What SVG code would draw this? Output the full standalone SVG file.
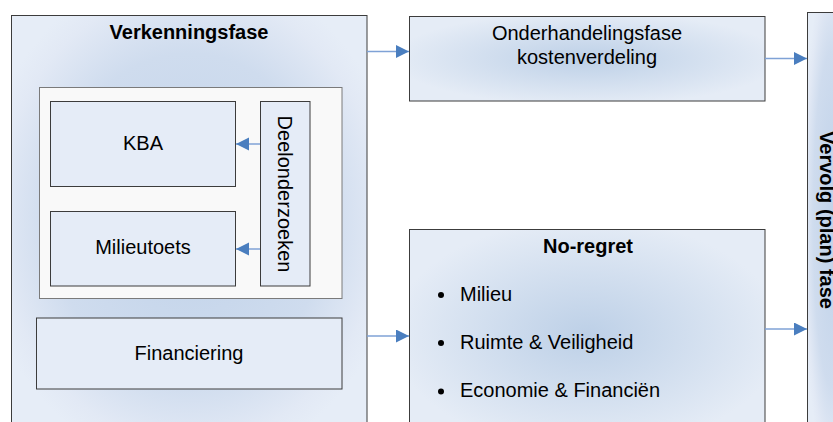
<svg xmlns="http://www.w3.org/2000/svg" width="833" height="422" viewBox="0 0 833 422">
<defs>
<radialGradient id="g" cx="50%" cy="50%" r="55%">
<stop offset="0" stop-color="#bdd0e7"/>
<stop offset="1" stop-color="#e5ecf6"/>
</radialGradient>
<radialGradient id="gv" cx="50%" cy="48%" r="60%">
<stop offset="0" stop-color="#c0d2e9"/>
<stop offset="0.65" stop-color="#cfdcee"/>
<stop offset="0.9" stop-color="#e2e9f5"/>
<stop offset="1" stop-color="#e6edf7"/>
</radialGradient>
<marker id="ah" markerUnits="userSpaceOnUse" markerWidth="14" markerHeight="14" refX="13" refY="6.5" orient="auto">
<path d="M0,0 L13,6.5 L0,13 Z" fill="#4a7ebf"/>
</marker>
<style>
.box{stroke:#3c3c3c;stroke-width:1}
.flat{fill:#e5ecf7}
.t{font-family:"Liberation Sans",Arial,sans-serif;font-size:20px;fill:#000}
.b{font-weight:bold}
.c{text-anchor:middle}
.ln{stroke:#7fa2d6;stroke-width:1.5;fill:none;marker-end:url(#ah)}
</style>
</defs>

<g id="verkenningsfase">
<rect class="box" x="11.5" y="15.5" width="355.5" height="420" fill="url(#gv)"/>
<text class="t b c" x="189" y="38.5">Verkenningsfase</text>
</g>

<g id="inner">
<rect x="39.5" y="87.5" width="302.5" height="211" fill="#f9f9f9" stroke="#7a7a7a" stroke-width="1"/>
</g>

<g id="kba">
<rect class="box flat" x="50.5" y="101.5" width="185" height="85"/>
<text class="t c" x="143" y="150">KBA</text>
</g>

<g id="milieutoets">
<rect class="box flat" x="50.5" y="211.5" width="185" height="74.5"/>
<text class="t c" x="143" y="254">Milieutoets</text>
</g>

<g id="deelonderzoeken">
<rect class="box flat" x="260.5" y="101.5" width="49.5" height="184.5"/>
<text class="t c" transform="translate(278,194) rotate(90)" x="0" y="0">Deelonderzoeken</text>
</g>

<g id="financiering">
<rect class="box flat" x="36.5" y="318" width="305.5" height="71"/>
<text class="t c" x="189" y="360">Financiering</text>
</g>

<g id="onderhandelingsfase">
<rect class="box" x="409.5" y="16.5" width="355.5" height="84.5" fill="url(#g)"/>
<text class="t c" x="587" y="39.5">Onderhandelingsfase</text>
<text class="t c" x="587" y="63.5">kostenverdeling</text>
</g>

<g id="noregret">
<rect class="box" x="409.5" y="229.5" width="355.5" height="210" fill="url(#g)"/>
<text class="t b c" x="588" y="252.5">No-regret</text>
<circle cx="441" cy="295" r="3" fill="#000"/>
<text class="t" x="460" y="300.5">Milieu</text>
<circle cx="441" cy="343" r="3" fill="#000"/>
<text class="t" x="460" y="348.5">Ruimte &amp; Veiligheid</text>
<circle cx="441" cy="391.5" r="3" fill="#000"/>
<text class="t" x="460" y="397">Economie &amp; Financiën</text>
</g>

<g id="vervolg">
<rect class="box" x="807.5" y="12.5" width="50" height="430" fill="url(#gv)"/>
<text class="t b c" transform="translate(819.5,220) rotate(90)" x="0" y="0">Vervolg (plan) fase</text>
</g>

<g id="connectors">
<line class="ln" x1="367" y1="51.5" x2="409" y2="51.5"/>
<line class="ln" x1="765" y1="58.5" x2="807" y2="58.5"/>
<line class="ln" x1="367" y1="336" x2="409" y2="336"/>
<line class="ln" x1="765" y1="329" x2="807" y2="329"/>
<line class="ln" x1="260" y1="144" x2="236" y2="144"/>
<line class="ln" x1="260" y1="249" x2="236" y2="249"/>
</g>
</svg>
